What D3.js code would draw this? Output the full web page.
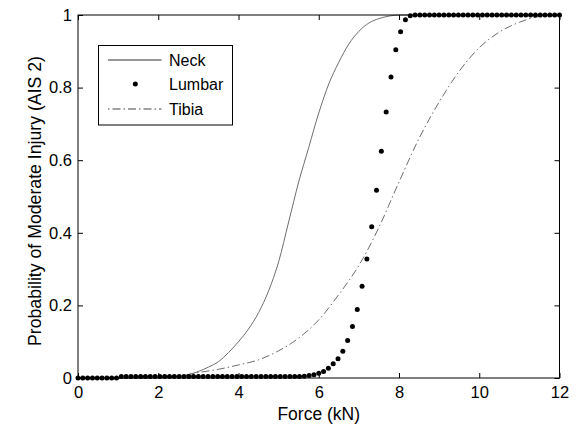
<!DOCTYPE html>
<html>
<head>
<meta charset="utf-8">
<script src="https://cdn.jsdelivr.net/npm/d3@7"></script>
<style>
  html, body { margin: 0; padding: 0; background: #fff; }
  svg { display: block; font-family: "Liberation Sans", Arial, sans-serif; }
</style>
</head>
<body>
<div id="chart"></div>
<script>
// Neck (solid line)
const neckForce = [0, 1, 1.5, 2, 2.5, 3, 3.25, 3.5, 3.75, 4, 4.25, 4.5, 4.75, 5, 5.25, 5.5, 5.75, 6, 6.25, 6.5, 6.75, 7, 7.25, 7.5, 7.75, 8, 9, 10, 11, 12];
const neckProb = [0, 0, 0, 0.001, 0.004, 0.018, 0.03, 0.045, 0.07, 0.1, 0.135, 0.18, 0.24, 0.32, 0.43, 0.54, 0.635, 0.73, 0.81, 0.87, 0.92, 0.955, 0.978, 0.99, 0.997, 1, 1, 1, 1, 1];

// Lumbar (dots), one point every 0.12 kN
const lumbarForce = [
  0, 0.12, 0.24, 0.36, 0.48, 0.6, 0.72, 0.84, 0.96, 1.08,
  1.2, 1.32, 1.44, 1.56, 1.68, 1.8, 1.92, 2.04, 2.16, 2.28,
  2.4, 2.52, 2.64, 2.76, 2.88, 3, 3.12, 3.24, 3.36, 3.48,
  3.6, 3.72, 3.84, 3.96, 4.08, 4.2, 4.32, 4.44, 4.56, 4.68,
  4.8, 4.92, 5.04, 5.16, 5.28, 5.4, 5.52, 5.64, 5.76, 5.88,
  6, 6.12, 6.24, 6.36, 6.48, 6.6, 6.72, 6.84, 6.96, 7.08,
  7.2, 7.32, 7.44, 7.56, 7.68, 7.8, 7.92, 8.04, 8.16, 8.28,
  8.4, 8.52, 8.64, 8.76, 8.88, 9, 9.12, 9.24, 9.36, 9.48,
  9.6, 9.72, 9.84, 9.96, 10.08, 10.2, 10.32, 10.44, 10.56, 10.68,
  10.8, 10.92, 11.04, 11.16, 11.28, 11.4, 11.52, 11.64, 11.76, 11.88,
  12
];
const lumbarProb = [
  0, 0, 0, 0, 0, 0, 0, 0, 0, 0.004,
  0.004, 0.004, 0.004, 0.004, 0.004, 0.004, 0.004, 0.004, 0.004, 0.004,
  0.004, 0.004, 0.004, 0.004, 0.004, 0.004, 0.004, 0.004, 0.004, 0.004,
  0.004, 0.004, 0.004, 0.004, 0.004, 0.004, 0.004, 0.004, 0.004, 0.004,
  0.004, 0.004, 0.004, 0.004, 0.004, 0.004, 0.004, 0.005, 0.007, 0.009,
  0.013, 0.018, 0.027, 0.039, 0.053, 0.074, 0.103, 0.142, 0.189, 0.253,
  0.328, 0.417, 0.517, 0.625, 0.733, 0.829, 0.904, 0.954, 0.987, 0.998,
  1, 1, 1, 1, 1, 1, 1, 1, 1, 1,
  1, 1, 1, 1, 1, 1, 1, 1, 1, 1,
  1, 1, 1, 1, 1, 1, 1, 1, 1, 1,
  1
];

// Tibia (dash-dot line)
const tibiaForce = [0, 1, 2, 2.5, 3, 3.5, 4, 4.5, 5, 5.5, 6, 6.5, 7, 7.5, 8, 8.5, 9, 9.5, 10, 10.5, 11, 11.5, 12];
const tibiaProb = [0, 0, 0.001, 0.005, 0.015, 0.024, 0.036, 0.05, 0.075, 0.11, 0.16, 0.23, 0.31, 0.415, 0.54, 0.66, 0.76, 0.845, 0.91, 0.953, 0.98, 0.996, 1];

const xTicks = [0, 2, 4, 6, 8, 10, 12];
const yTicks = [0, 0.2, 0.4, 0.6, 0.8, 1];
const legendLabels = ['Neck', 'Lumbar', 'Tibia'];

const width = 578, height = 424;
const margin = { top: 15, right: 18.5, bottom: 46, left: 78 };
const innerW = width - margin.left - margin.right;
const innerH = height - margin.top - margin.bottom;

const svg = d3.select('#chart').append('svg')
  .attr('width', width)
  .attr('height', height);

const g = svg.append('g')
  .attr('transform', `translate(${margin.left},${margin.top})`);

const x = d3.scaleLinear().domain([0, 12]).range([0, innerW]);
const y = d3.scaleLinear().domain([0, 1]).range([innerH, 0]);

const fmtY = d => (d === 0 || d === 1) ? String(d) : d.toFixed(1);

// curves
const line = d3.line()
  .x(d => x(d[0]))
  .y(d => y(d[1]))
  .curve(d3.curveMonotoneX);

const zip = (a, b) => a.map((v, i) => [v, b[i]]);

g.append('path')
  .datum(zip(neckForce, neckProb))
  .attr('fill', 'none')
  .attr('stroke', '#6e6e6e')
  .attr('stroke-width', 1)
  .attr('d', line);

g.append('path')
  .datum(zip(tibiaForce, tibiaProb))
  .attr('fill', 'none')
  .attr('stroke', '#6e6e6e')
  .attr('stroke-width', 1)
  .attr('stroke-dasharray', '8,3,1.5,3')
  .attr('d', line);

g.append('g').selectAll('circle')
  .data(zip(lumbarForce, lumbarProb))
  .join('circle')
  .attr('cx', d => x(d[0]))
  .attr('cy', d => y(d[1]))
  .attr('r', 2.5)
  .attr('fill', '#000');

// axes, ticks pointing inward on all four sides
const styleAxis = sel => {
  sel.select('.domain').remove();
  sel.selectAll('line').attr('stroke', '#000');
  sel.selectAll('text')
    .attr('fill', '#000')
    .attr('font-size', '16.5px')
    .attr('font-family', '"Liberation Sans", Arial, sans-serif');
};

g.append('g')
  .attr('transform', `translate(0,${innerH})`)
  .call(d3.axisBottom(x).tickValues(xTicks).tickSizeInner(-5).tickSizeOuter(0).tickPadding(8.5))
  .call(styleAxis);

g.append('g')
  .call(d3.axisLeft(y).tickValues(yTicks).tickFormat(fmtY).tickSizeInner(-5).tickSizeOuter(0).tickPadding(6))
  .call(styleAxis);

g.append('g')
  .call(d3.axisTop(x).tickValues(xTicks).tickFormat('').tickSizeInner(-5).tickSizeOuter(0))
  .call(styleAxis);

g.append('g')
  .attr('transform', `translate(${innerW},0)`)
  .call(d3.axisRight(y).tickValues(yTicks).tickFormat('').tickSizeInner(-5).tickSizeOuter(0))
  .call(styleAxis);

g.append('rect')
  .attr('width', innerW)
  .attr('height', innerH)
  .attr('fill', 'none')
  .attr('stroke', '#000')
  .attr('stroke-width', 1);

// axis titles
svg.append('text')
  .attr('x', margin.left + innerW / 2)
  .attr('y', 419.5)
  .attr('text-anchor', 'middle')
  .attr('font-size', '17.5px')
  .text('Force (kN)');

svg.append('text')
  .attr('transform', 'rotate(-90)')
  .attr('x', -201)
  .attr('y', 40.5)
  .attr('text-anchor', 'middle')
  .attr('font-size', '17.7px')
  .text('Probability of Moderate Injury (AIS 2)');

// legend
const legend = svg.append('g').attr('transform', 'translate(98.5,45.5)');

legend.append('rect')
  .attr('width', 134)
  .attr('height', 79.5)
  .attr('fill', '#fff')
  .attr('stroke', '#000')
  .attr('stroke-width', 1);

const rowY = [14.5, 38.5, 63.5];

legend.append('line')
  .attr('x1', 9.5).attr('x2', 63)
  .attr('y1', rowY[0]).attr('y2', rowY[0])
  .attr('stroke', '#333').attr('stroke-width', 1);

legend.append('circle')
  .attr('cx', 36.8).attr('cy', rowY[1])
  .attr('r', 2.5).attr('fill', '#000');

legend.append('line')
  .attr('x1', 9.5).attr('x2', 63)
  .attr('y1', rowY[2]).attr('y2', rowY[2])
  .attr('stroke', '#444').attr('stroke-width', 1)
  .attr('stroke-dasharray', '1.5,3,8,3');

legend.selectAll('text.lbl')
  .data(legendLabels)
  .join('text')
  .attr('class', 'lbl')
  .attr('x', 70.5)
  .attr('y', (d, i) => rowY[i])
  .attr('dy', '0.36em')
  .attr('font-size', '16px')
  .text(d => d);
</script>
</body>
</html>
